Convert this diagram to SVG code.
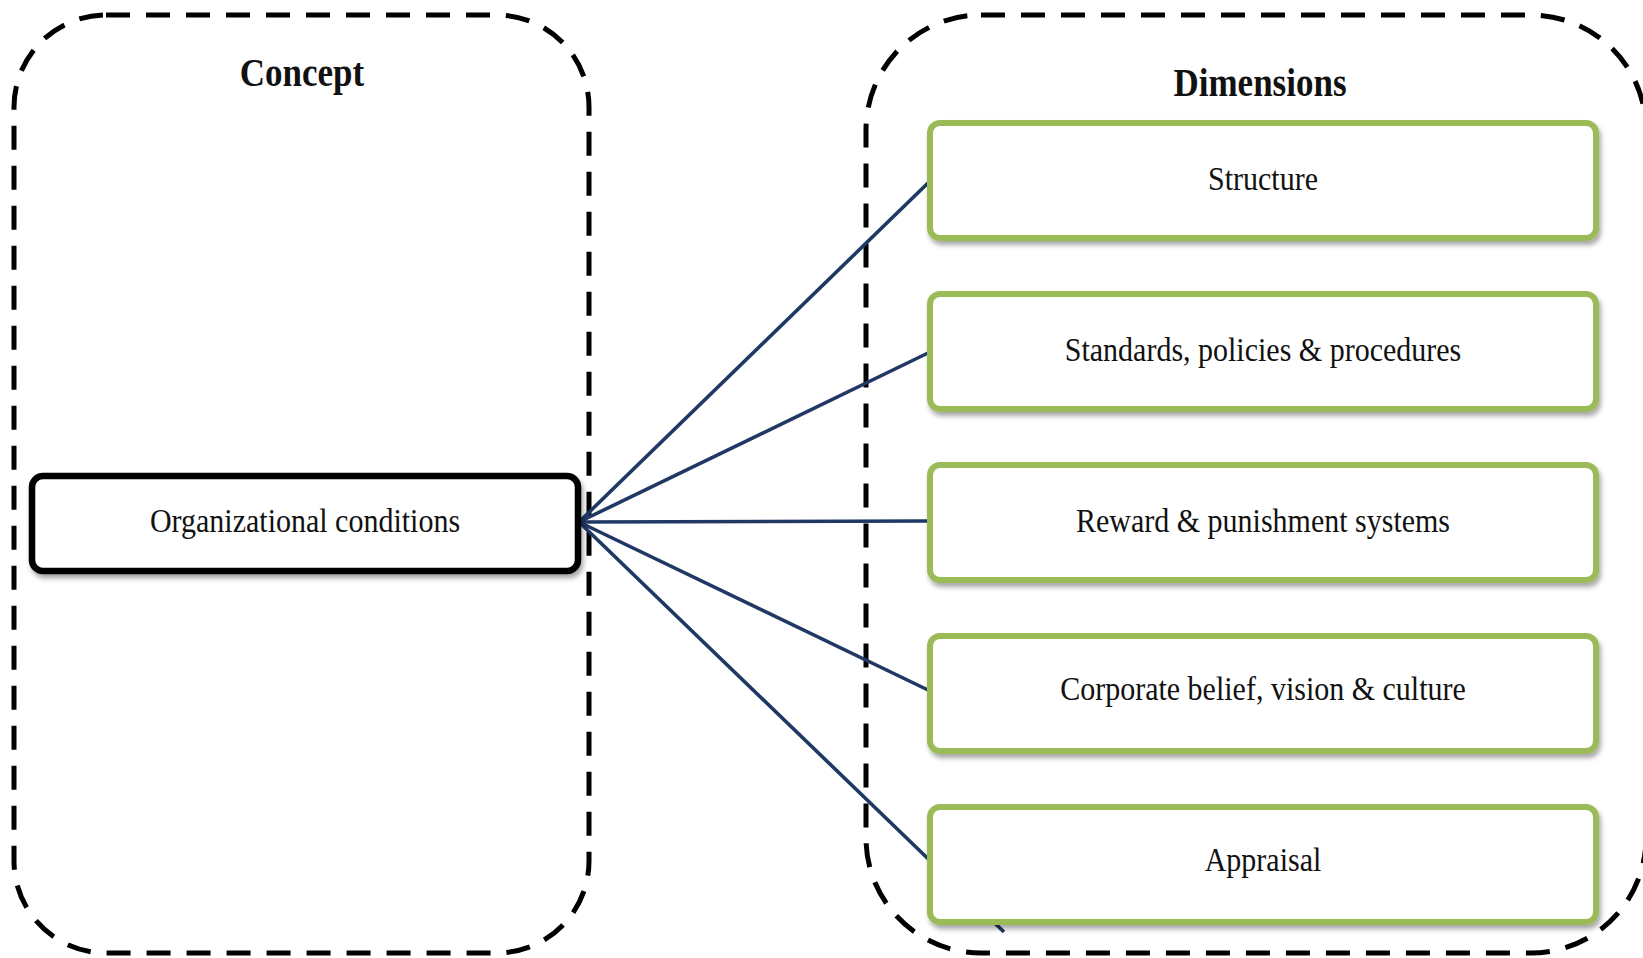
<svg xmlns="http://www.w3.org/2000/svg" width="1643" height="958" viewBox="0 0 1643 958">
<defs>
<filter id="sh" x="-5%" y="-10%" width="110%" height="130%">
<feDropShadow dx="2" dy="4" stdDeviation="2.5" flood-color="#000" flood-opacity="0.35"/>
</filter>
<style>
.group{fill:none;stroke:#000;stroke-width:5;stroke-dasharray:24 16}
.title{font-family:"Liberation Serif",serif;font-weight:bold;font-size:35px;fill:#111;text-anchor:middle}
.lbl{font-family:"Liberation Serif",serif;font-size:30px;fill:#111;text-anchor:middle}
.dim{fill:#fff;stroke:#9BBB59;stroke-width:6}
.con{fill:#fff;stroke:#000;stroke-width:6.5}
.edge{stroke:#1F3864;stroke-width:3.6;fill:none}
</style>
</defs>
<rect id="bg" x="0" y="0" width="1643" height="958" fill="#fff"/>
<g id="concept-group">
<rect class="group" x="14" y="15" width="575" height="938" rx="92" ry="92"/>
<text class="title" transform="translate(302,86) scale(1,1.12)">Concept</text>
</g>
<g id="dimensions-group">
<rect class="group" x="866" y="15" width="780" height="938" rx="115" ry="115"/>
<text class="title" transform="translate(1260,96) scale(1,1.12)">Dimensions</text>
</g>
<g id="connectors">
<line class="edge" x1="579" y1="522" x2="928" y2="183"/>
<line class="edge" x1="579" y1="522" x2="928" y2="353"/>
<line class="edge" x1="579" y1="522" x2="928" y2="521"/>
<line class="edge" x1="579" y1="522" x2="928" y2="690"/>
<line class="edge" x1="579" y1="522" x2="1004" y2="932"/>
</g>
<g id="organizational-conditions">
<rect class="con" filter="url(#sh)" x="32" y="476" width="546" height="95" rx="11" ry="11"/>
<text class="lbl" transform="translate(305,532) scale(1,1.12)">Organizational conditions</text>
</g>
<g id="structure">
<rect class="dim" filter="url(#sh)" x="930" y="123" width="666" height="115" rx="10" ry="10"/>
<text class="lbl" transform="translate(1263,190) scale(1,1.12)">Structure</text>
</g>
<g id="standards">
<rect class="dim" filter="url(#sh)" x="930" y="294" width="666" height="115" rx="10" ry="10"/>
<text class="lbl" transform="translate(1263,361) scale(1,1.12)">Standards, policies &amp; procedures</text>
</g>
<g id="reward">
<rect class="dim" filter="url(#sh)" x="930" y="465" width="666" height="115" rx="10" ry="10"/>
<text class="lbl" transform="translate(1263,532) scale(1,1.12)">Reward &amp; punishment systems</text>
</g>
<g id="corporate">
<rect class="dim" filter="url(#sh)" x="930" y="636" width="666" height="115" rx="10" ry="10"/>
<text class="lbl" transform="translate(1263,700) scale(1,1.12)">Corporate belief, vision &amp; culture</text>
</g>
<g id="appraisal">
<rect class="dim" filter="url(#sh)" x="930" y="807" width="666" height="115" rx="10" ry="10"/>
<text class="lbl" transform="translate(1263,871) scale(1,1.12)">Appraisal</text>
</g>
</svg>
